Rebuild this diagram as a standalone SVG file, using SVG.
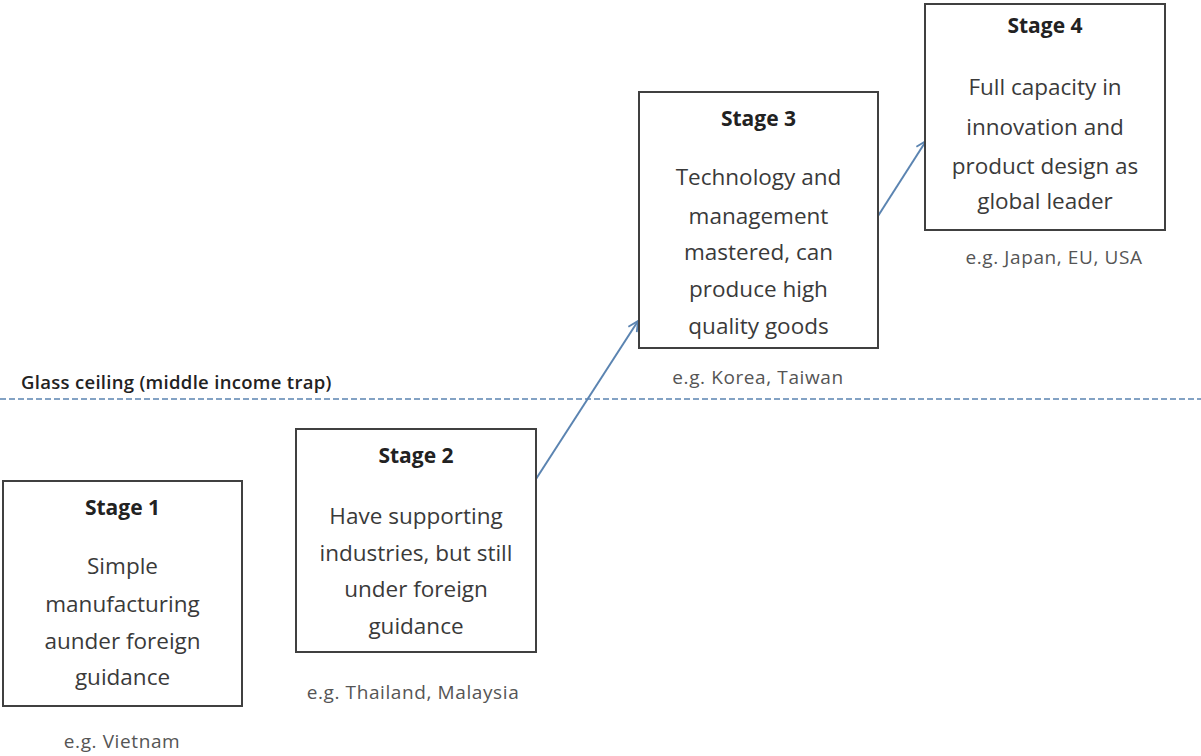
<svg xmlns="http://www.w3.org/2000/svg" width="1201" height="756" viewBox="0 0 1201 756">
<defs>
<style>
.box{fill:#fff;stroke:#404040;stroke-width:2}
.title{font-family:"Open Sans","Liberation Sans",sans-serif;font-weight:bold;font-size:21px;fill:#222;text-anchor:middle}
.body{font-family:"Open Sans","Liberation Sans",sans-serif;font-size:22.5px;fill:#3a3a3a;text-anchor:middle}
.cap{font-family:"Open Sans","Liberation Sans",sans-serif;font-size:19px;fill:#555;text-anchor:middle;letter-spacing:0.6px}
.conn{stroke:#5b84b1;stroke-width:2;fill:none}
</style>
<marker id="arr" viewBox="0 0 12 12" refX="11" refY="6" markerWidth="12" markerHeight="12" markerUnits="userSpaceOnUse" orient="auto">
<path d="M1,1 L11,6 L1,11" fill="none" stroke="#5b84b1" stroke-width="1.8"/>
</marker>
</defs>
<rect width="1201" height="756" fill="#fff"/>
<g id="ceiling">
<line x1="0" y1="399" x2="1201" y2="399" stroke="#5b84b1" stroke-width="1.5" stroke-dasharray="6 3"/>
<text x="21" y="389" font-family="Open Sans,Liberation Sans,sans-serif" font-weight="600" font-size="18.5" fill="#222" letter-spacing="0.3">Glass ceiling (middle income trap)</text>
</g>
<g id="connectors">
<line class="conn" x1="536" y1="479" x2="638" y2="321" marker-end="url(#arr)"/>
<line class="conn" x1="878" y1="216" x2="926" y2="141" marker-end="url(#arr)"/>
</g>
<g id="stage1">
<rect class="box" x="3" y="481" width="239" height="225"/>
<text class="title" x="122.5" y="515">Stage 1</text>
<text class="body" x="122.5" y="574">Simple</text>
<text class="body" x="122.5" y="612">manufacturing</text>
<text class="body" x="122.5" y="649">aunder foreign</text>
<text class="body" x="122.5" y="685">guidance</text>
<text class="cap" x="122" y="748">e.g. Vietnam</text>
</g>
<g id="stage2">
<rect class="box" x="296" y="429" width="240" height="223"/>
<text class="title" x="416" y="463">Stage 2</text>
<text class="body" x="416" y="524">Have supporting</text>
<text class="body" x="416" y="561">industries, but still</text>
<text class="body" x="416" y="597">under foreign</text>
<text class="body" x="416" y="634">guidance</text>
<text class="cap" x="413" y="699">e.g. Thailand, Malaysia</text>
</g>
<g id="stage3">
<rect class="box" x="639" y="92" width="239" height="256"/>
<text class="title" x="758.5" y="126">Stage 3</text>
<text class="body" x="758.5" y="185">Technology and</text>
<text class="body" x="758.5" y="224">management</text>
<text class="body" x="758.5" y="260">mastered, can</text>
<text class="body" x="758.5" y="297">produce high</text>
<text class="body" x="758.5" y="334">quality goods</text>
<text class="cap" x="758" y="384">e.g. Korea, Taiwan</text>
</g>
<g id="stage4">
<rect class="box" x="925" y="4" width="240" height="226"/>
<text class="title" x="1045" y="33">Stage 4</text>
<text class="body" x="1045" y="95">Full capacity in</text>
<text class="body" x="1045" y="135">innovation and</text>
<text class="body" x="1045" y="174">product design as</text>
<text class="body" x="1045" y="209">global leader</text>
<text class="cap" x="1054" y="264">e.g. Japan, EU, USA</text>
</g>
</svg>
